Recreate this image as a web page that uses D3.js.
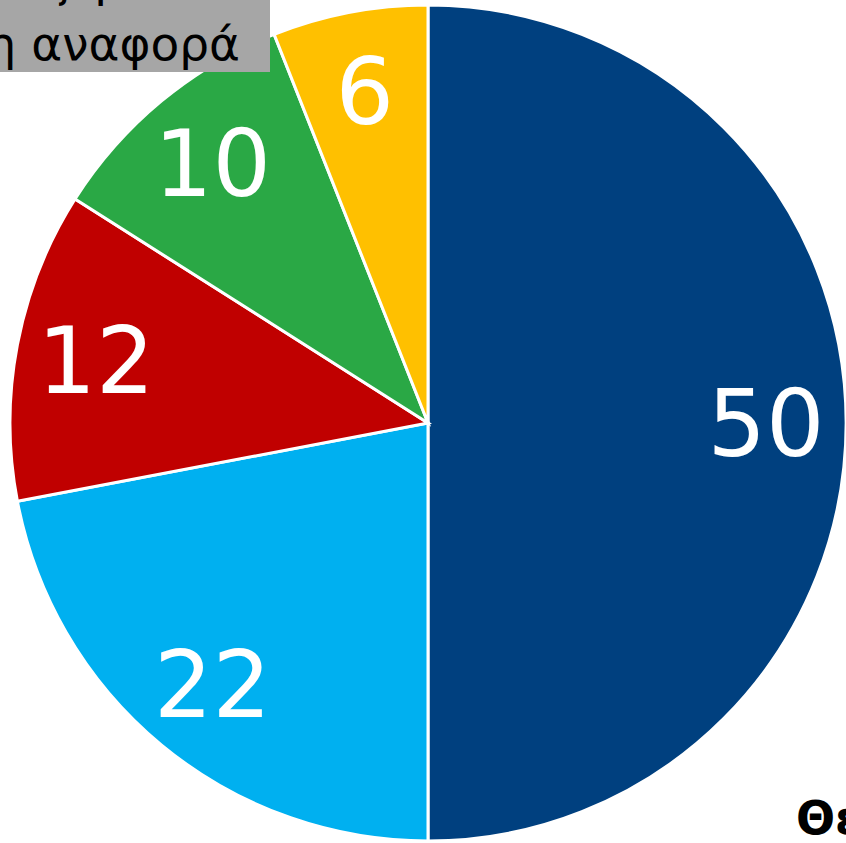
<!DOCTYPE html>
<html>
<head>
<meta charset="utf-8">
<script src="https://cdn.jsdelivr.net/npm/d3@7"></script>
<style>
	html, body { margin: 0; padding: 0; background: #ffffff; overflow: hidden; }
	#canvas { width: 846px; height: 843px; }
	text { font-family: "DejaVu Sans", sans-serif; }
</style>
</head>
<body>
<div id="canvas"></div>
<script>
// slices, clockwise from 12 o'clock
var sliceValues = [50, 22, 12, 10, 6];
var sliceColors = ["#00407F", "#00B0F0", "#C00000", "#2AA845", "#FFC000"];
var boxLines = ["Δεν ξέρω /", "Άλλη αναφορά"];
var footText = "Θεσσαλονίκη";

var w = 846, h = 843;
var cx = 428, cy = 423, r = 418;

var svg = d3.select("#canvas")
	.append("svg")
	.attr("width", w)
	.attr("height", h);

var pie = d3.pie()
	.sort(null)
	.value(function(d){ return d; });

var arc = d3.arc()
	.innerRadius(0)
	.outerRadius(r);

var labelArc = d3.arc()
	.innerRadius(338)
	.outerRadius(338);

var g = svg.append("g")
	.attr("transform", "translate(" + cx + "," + cy + ")");

var slices = g.selectAll(".slice")
	.data(pie(sliceValues))
	.enter()
	.append("g")
	.attr("class", "slice");

slices.append("path")
	.attr("d", arc)
	.attr("fill", function(d, i){ return sliceColors[i]; })
	.attr("stroke", "#ffffff")
	.attr("stroke-width", 3);

slices.append("text")
	.attr("transform", function(d){ return "translate(" + labelArc.centroid(d) + ")"; })
	.attr("text-anchor", "middle")
	.attr("dy", "0.36em")
	.attr("font-size", 92)
	.attr("fill", "#ffffff")
	.text(function(d){ return d.data; });

// grey box, cut off by the top-left corner
svg.append("rect")
	.attr("x", -200)
	.attr("y", -100)
	.attr("width", 470)
	.attr("height", 172)
	.attr("fill", "#A6A6A6");

var boxText = svg.append("text")
	.attr("text-anchor", "middle")
	.attr("font-size", 47)
	.attr("fill", "#000000");

boxLines.forEach(function(line, i){
	boxText.append("tspan")
		.attr("y", -4 + i * 64)
		.text(line);
});

// centre the lines so the second one ends at x=240
var lastW = boxText.selectAll("tspan").nodes()[1].getComputedTextLength();
boxText.selectAll("tspan").attr("x", 240 - lastW / 2);

svg.append("text")
	.attr("x", 796)
	.attr("y", 834)
	.attr("font-size", 46)
	.attr("font-weight", "bold")
	.attr("fill", "#000000")
	.text(footText);
</script>
</body>
</html>
